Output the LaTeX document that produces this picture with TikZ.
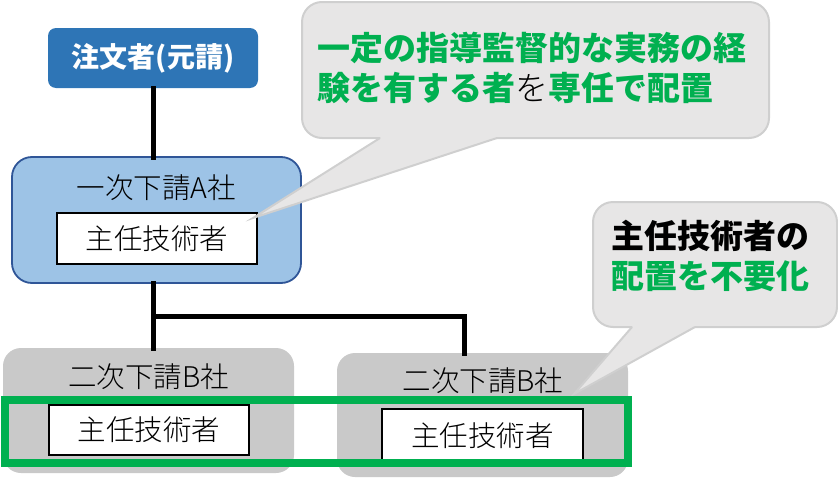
\documentclass[tikz,border=0pt]{standalone}
\usepackage{fontspec}
\setmainfont{Noto Sans CJK JP}
\IfFontExistsTF{Noto Sans CJK JP Light}
  {\newfontfamily\lightjp{Noto Sans CJK JP Light}}
  {\newfontfamily\lightjp{Noto Sans CJK JP}}
\definecolor{topblue}{HTML}{2E75B6}
\definecolor{lightblue}{HTML}{9DC3E6}
\definecolor{darkblue}{HTML}{2F5597}
\definecolor{boxgray}{HTML}{C9C9C9}
\definecolor{callfill}{HTML}{E7E6E6}
\definecolor{callline}{HTML}{CFCFCF}
\definecolor{okgreen}{HTML}{00B050}
\begin{document}
\begin{tikzpicture}[x=1pt,y=-1pt,
  every node/.style={inner sep=0pt, outer sep=0pt},
  topbox/.style={fill=topblue, rounded corners=8pt, text=white,
    font=\fontsize{28}{32}\selectfont\bfseries},
  firmbox/.style={fill=lightblue, draw=darkblue, line width=1.8pt, rounded corners=20pt},
  graybox/.style={fill=boxgray, rounded corners=18pt},
  label/.style={font=\lightjp\fontsize{28.5}{32}\selectfont, text=black},
  engbox/.style={fill=white, draw=black, line width=2pt,
    font=\lightjp\fontsize{28.5}{32}\selectfont, text=black},
  link/.style={line width=5pt, line cap=rect},
  callbody/.style={fill=callfill, draw=callline, line width=2pt, rounded corners=20pt},
  calltext/.style={font=\fontsize{33}{40}\selectfont\bfseries, align=left},
  greenframe/.style={draw=okgreen, line width=8pt}
]
\useasboundingbox (0,0) rectangle (838,479);

% top node
\node[topbox, minimum width=210pt, minimum height=60pt] (top) at (153,58) {注文者(元請)};

% first-tier subcontractor
\node[firmbox, minimum width=289pt, minimum height=126pt] (A) at (156.5,220) {};
\node[label] (Alab) at (156.5,188) {一次下請A社};
\node[engbox, minimum width=200pt, minimum height=51pt] (Aeng) at (157,238.5) {主任技術者};

% second-tier subcontractors
\node[graybox, minimum width=291pt, minimum height=125pt] (B1) at (148.5,410.5) {};
\node[label] (B1lab) at (148.5,377) {二次下請B社};
\node[engbox, minimum width=200pt, minimum height=50pt] (B1eng) at (149,430) {主任技術者};

\node[graybox, minimum width=291pt, minimum height=124pt] (B2) at (482.5,415) {};
\node[label] (B2lab) at (483,381) {二次下請B社};
\node[engbox, minimum width=201pt, minimum height=54pt] (B2eng) at (482.5,436) {主任技術者};

% connectors
\coordinate (j) at (top.south |- 0,316);
\coordinate (B2top) at (464.5,0 |- B2.north);
\draw[link] (top.south) -- (top.south |- A.north);
\draw[link] (top.south |- A.south) -- (top.south |- B1.north);
\draw[link] (j) -| (B2top);

% callout 1
\coordinate (c1tip) at (253,218);
\coordinate (c1a) at (380,138);
\coordinate (c1b) at (497,138);
\draw[callbody] (302,2) rectangle (769,138);
\fill[callfill] (382,135.5) -- (c1a) -- (c1tip) -- (c1b) -- (495,135.5) -- cycle;
\draw[callline, line width=2pt, line join=miter] (c1a) -- (c1tip) -- (c1b);
\node[calltext, anchor=west] (c1text) at (317,68)
  {\textcolor{okgreen}{一定の指導監督的な実務の経}\\
   \textcolor{okgreen}{験を有する者}{\lightjp\mdseries を}\textcolor{okgreen}{専任で配置}};

% callout 2
\coordinate (c2tip) at (574,394);
\coordinate (c2a) at (632,327);
\coordinate (c2b) at (695,327);
\draw[callbody] (593,202) rectangle (837,327);
\fill[callfill] (634,324.5) -- (c2a) -- (c2tip) -- (c2b) -- (693,324.5) -- cycle;
\draw[callline, line width=2pt, line join=miter] (c2a) -- (c2tip) -- (c2b);
\node[calltext, anchor=west] (c2text) at (611,256)
  {主任技術者の\\ \textcolor{okgreen}{配置を不要化}};

% green frame
\node[greenframe, minimum width=623pt, minimum height=62.5pt] (frame) at (316,431.25) {};
\end{tikzpicture}
\end{document}
